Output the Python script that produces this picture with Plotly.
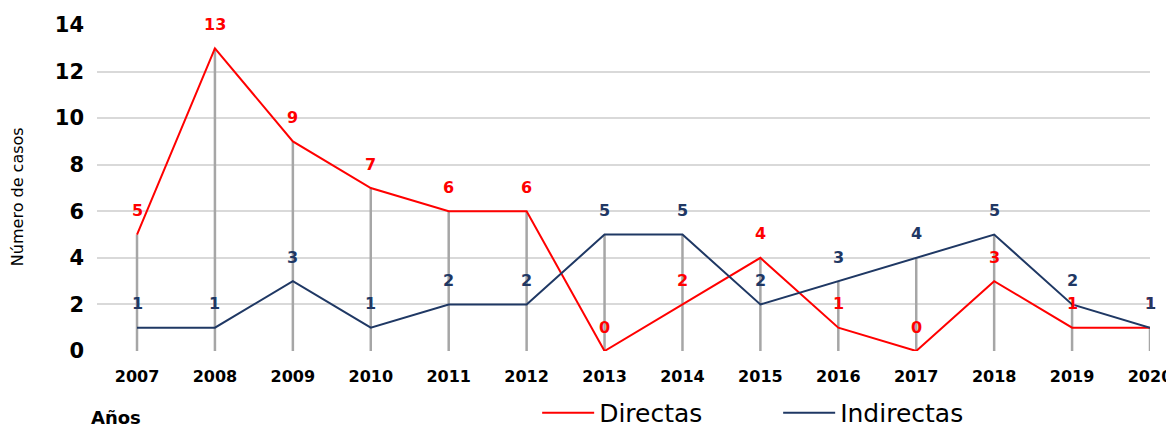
import plotly.graph_objects as go

years = [2007, 2008, 2009, 2010, 2011, 2012, 2013, 2014, 2015, 2016, 2017, 2018, 2019, 2020]
directas = [5, 13, 9, 7, 6, 6, 0, 2, 4, 1, 0, 3, 1, 1]
indirectas = [1, 1, 3, 1, 2, 2, 5, 5, 2, 3, 4, 5, 2, 1]

RED = "#FF0000"
NAVY = "#1F3864"
FONT = "DejaVu Sans"

fig = go.Figure()

# vertical drop lines from the higher value down to the axis
drop_x, drop_y = [], []
for yr, d, i in zip(years, directas, indirectas):
    drop_x += [yr, yr, None]
    drop_y += [0, max(d, i), None]
fig.add_trace(go.Scatter(x=drop_x, y=drop_y, mode="lines", showlegend=False,
                         line=dict(color="#A6A6A6", width=2.5), hoverinfo="skip",
                         cliponaxis=False))

fig.add_trace(go.Scatter(x=years, y=directas, mode="lines", name="Directas",
                         line=dict(color=RED, width=2), cliponaxis=False))
fig.add_trace(go.Scatter(x=years, y=indirectas, mode="lines", name="Indirectas",
                         line=dict(color=NAVY, width=2), cliponaxis=False))

# data labels
for series, col in [(directas, RED), (indirectas, NAVY)]:
    for yr, v in zip(years, series):
        fig.add_annotation(x=yr, y=v, text=str(v), showarrow=False, yshift=24,
                           font=dict(family=FONT, size=16, color=col, weight="bold"))

fig.add_annotation(x=-80 / 1053, y=0.472, xref="paper", yref="paper", text="Número de casos",
                   textangle=-90, showarrow=False, xanchor="center", yanchor="middle",
                   font=dict(family=FONT, size=16, color="black"))
fig.add_annotation(x=-8 / 1053, y=-0.205, xref="paper", yref="paper", text="Años",
                   showarrow=False, xanchor="left", yanchor="middle",
                   font=dict(family=FONT, size=18, color="black", weight="bold"))

# page body adds an 8px margin, so the figure is drawn 8px smaller
fig.update_layout(
    width=1166, height=419,
    margin=dict(l=89, r=24, t=17, b=76, autoexpand=False),
    plot_bgcolor="white", paper_bgcolor="white",
    font=dict(family=FONT, color="black"),
    legend=dict(orientation="h", x=0.418, y=-0.19, xanchor="left", yanchor="middle",
                font=dict(family=FONT, size=25, color="black"), entrywidth=174,
                itemwidth=52),
    xaxis=dict(range=[2007 - 40 / 77.9, 2020], tickvals=years, showgrid=False,
               zeroline=False, showline=False, ticks="", automargin=False,
               ticklabelstandoff=14,
               tickfont=dict(family=FONT, size=16, weight="bold", color="black")),
    yaxis=dict(range=[0, 14], dtick=2, showgrid=True, gridcolor="#D9D9D9", gridwidth=2,
               zeroline=False, showline=False, ticks="", ticklabelstandoff=12,
               automargin=False,
               tickfont=dict(family=FONT, size=21, weight="bold", color="black")),
)

fig.write_html("out.html")
